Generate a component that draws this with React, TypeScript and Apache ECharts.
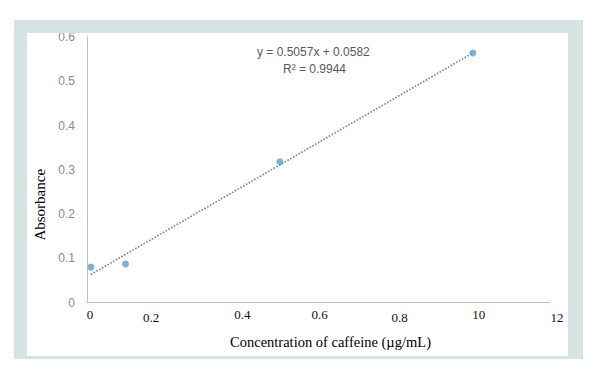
import React, { useEffect, useRef } from "react";
import * as echarts from "echarts";

// Data
const concentrations = [0.01, 0.1, 0.5, 1.0];
const absorbances = [0.08, 0.087, 0.318, 0.564];
const xTickLabels = ["0", "0.2", "0.4", "0.6", "0.8", "10", "12"];
const yTickLabels = ["0", "0.1", "0.2", "0.3", "0.4", "0.5", "0.6"];
const trendSlope = 0.5057;
const trendIntercept = 0.0582;
const rSquared = 0.9944;

// per-label nudges (style only)
const xLabelShift = [
  { dx: 3, dy: 0 },
  { dx: -13, dy: 3 },
  { dx: 1, dy: 0 },
  { dx: 1, dy: 0 },
  { dx: 4, dy: 3 },
  { dx: 6, dy: 0 },
  { dx: 7, dy: 3 },
];

export default function App() {
  const ref = useRef<HTMLDivElement>(null);
  useEffect(() => {
    if (!ref.current) return;
    const chart = echarts.init(ref.current, null, { renderer: "svg" });
    const rich: any = {};
    xLabelShift.forEach((s, i) => {
      rich["l" + i] = {
        fontFamily: "Liberation Serif",
        fontSize: 13,
        fontWeight: "normal",
        color: "#111",
        padding: [
          s.dy,
          s.dx < 0 ? -2 * s.dx : 0,
          0,
          s.dx > 0 ? 2 * s.dx : 0,
        ],
      };
    });
    const xMin = Math.min(...concentrations);
    const xMax = Math.max(...concentrations);
    const trend = [
      [xMin, trendSlope * xMin + trendIntercept],
      [xMax, trendSlope * xMax + trendIntercept],
    ];
    const frame = "#d5e3e3";
    chart.setOption({
      animation: false,
      backgroundColor: "#ffffff",
      grid: { left: 87, top: 37, right: 44, bottom: 71.5, containLabel: false },
      xAxis: {
        type: "value",
        min: 0,
        max: 1.2,
        interval: 0.2,
        axisLine: { show: true, lineStyle: { color: "#c0c0c0", width: 1 } },
        axisTick: { show: false },
        splitLine: { show: false },
        axisLabel: {
          margin: 5,
          fontWeight: "normal",
          formatter: (v: number) => {
            const i = Math.round(v / 0.2);
            return "{l" + i + "|" + (xTickLabels[i] ?? "") + "}";
          },
          rich,
        },
        name: "Concentration of caffeine (µg/mL)",
        nameLocation: "middle",
        nameGap: 32,
        nameTextStyle: {
          fontFamily: "Liberation Serif",
          fontSize: 14.5,
          color: "#000",
          padding: [0, 0, 0, 24],
        },
      },
      yAxis: {
        type: "value",
        min: 0,
        max: 0.6,
        interval: 0.1,
        axisLine: { show: true, lineStyle: { color: "#c0c0c0", width: 1 } },
        axisTick: { show: false },
        splitLine: { show: false },
        axisLabel: {
          margin: 12,
          fontFamily: "Liberation Sans",
          fontSize: 12,
          color: "#8a8a8a",
          formatter: (v: number) => yTickLabels[Math.round(v / 0.1)] ?? "",
        },
        name: "Absorbance",
        nameLocation: "middle",
        nameGap: 37,
        nameTextStyle: {
          fontFamily: "Liberation Serif",
          fontSize: 15,
          color: "#000",
          padding: [0, 70, 0, 0],
        },
      },
      series: [
        {
          type: "line",
          data: trend,
          symbol: "none",
          lineStyle: { color: "#7f7f7f", width: 1.6, type: [1.6, 1.6] },
          z: 2,
        },
        {
          type: "scatter",
          data: concentrations.map((c, i) => [c, absorbances[i]]),
          symbolSize: 7,
          itemStyle: { color: "#5b9bd5" },
          z: 3,
        },
      ],
      graphic: [
        {
          type: "text",
          left: 257,
          top: 46,
          z: 50,
          style: {
            text: "y = " + trendSlope + "x + " + trendIntercept,
            fontFamily: "Liberation Sans",
            fontSize: 12,
            fill: "#595959",
          },
        },
        {
          type: "text",
          left: 283,
          top: 63,
          z: 50,
          style: {
            text: "R² = " + rSquared,
            fontFamily: "Liberation Sans",
            fontSize: 12,
            fill: "#595959",
          },
        },
        { type: "rect", z: 100, shape: { x: 14, y: 20, width: 569, height: 13 }, style: { fill: frame } },
        { type: "rect", z: 100, shape: { x: 14, y: 356, width: 569, height: 3 }, style: { fill: frame } },
        { type: "rect", z: 100, shape: { x: 14, y: 20, width: 13, height: 339 }, style: { fill: frame } },
        { type: "rect", z: 100, shape: { x: 568, y: 20, width: 15, height: 339 }, style: { fill: frame } },
      ],
    });
    return () => chart.dispose();
  }, []);
  return (
    <div
      ref={ref}
      style={{ position: "absolute", left: 0, top: 0, width: 594, height: 374 }}
    />
  );
}
